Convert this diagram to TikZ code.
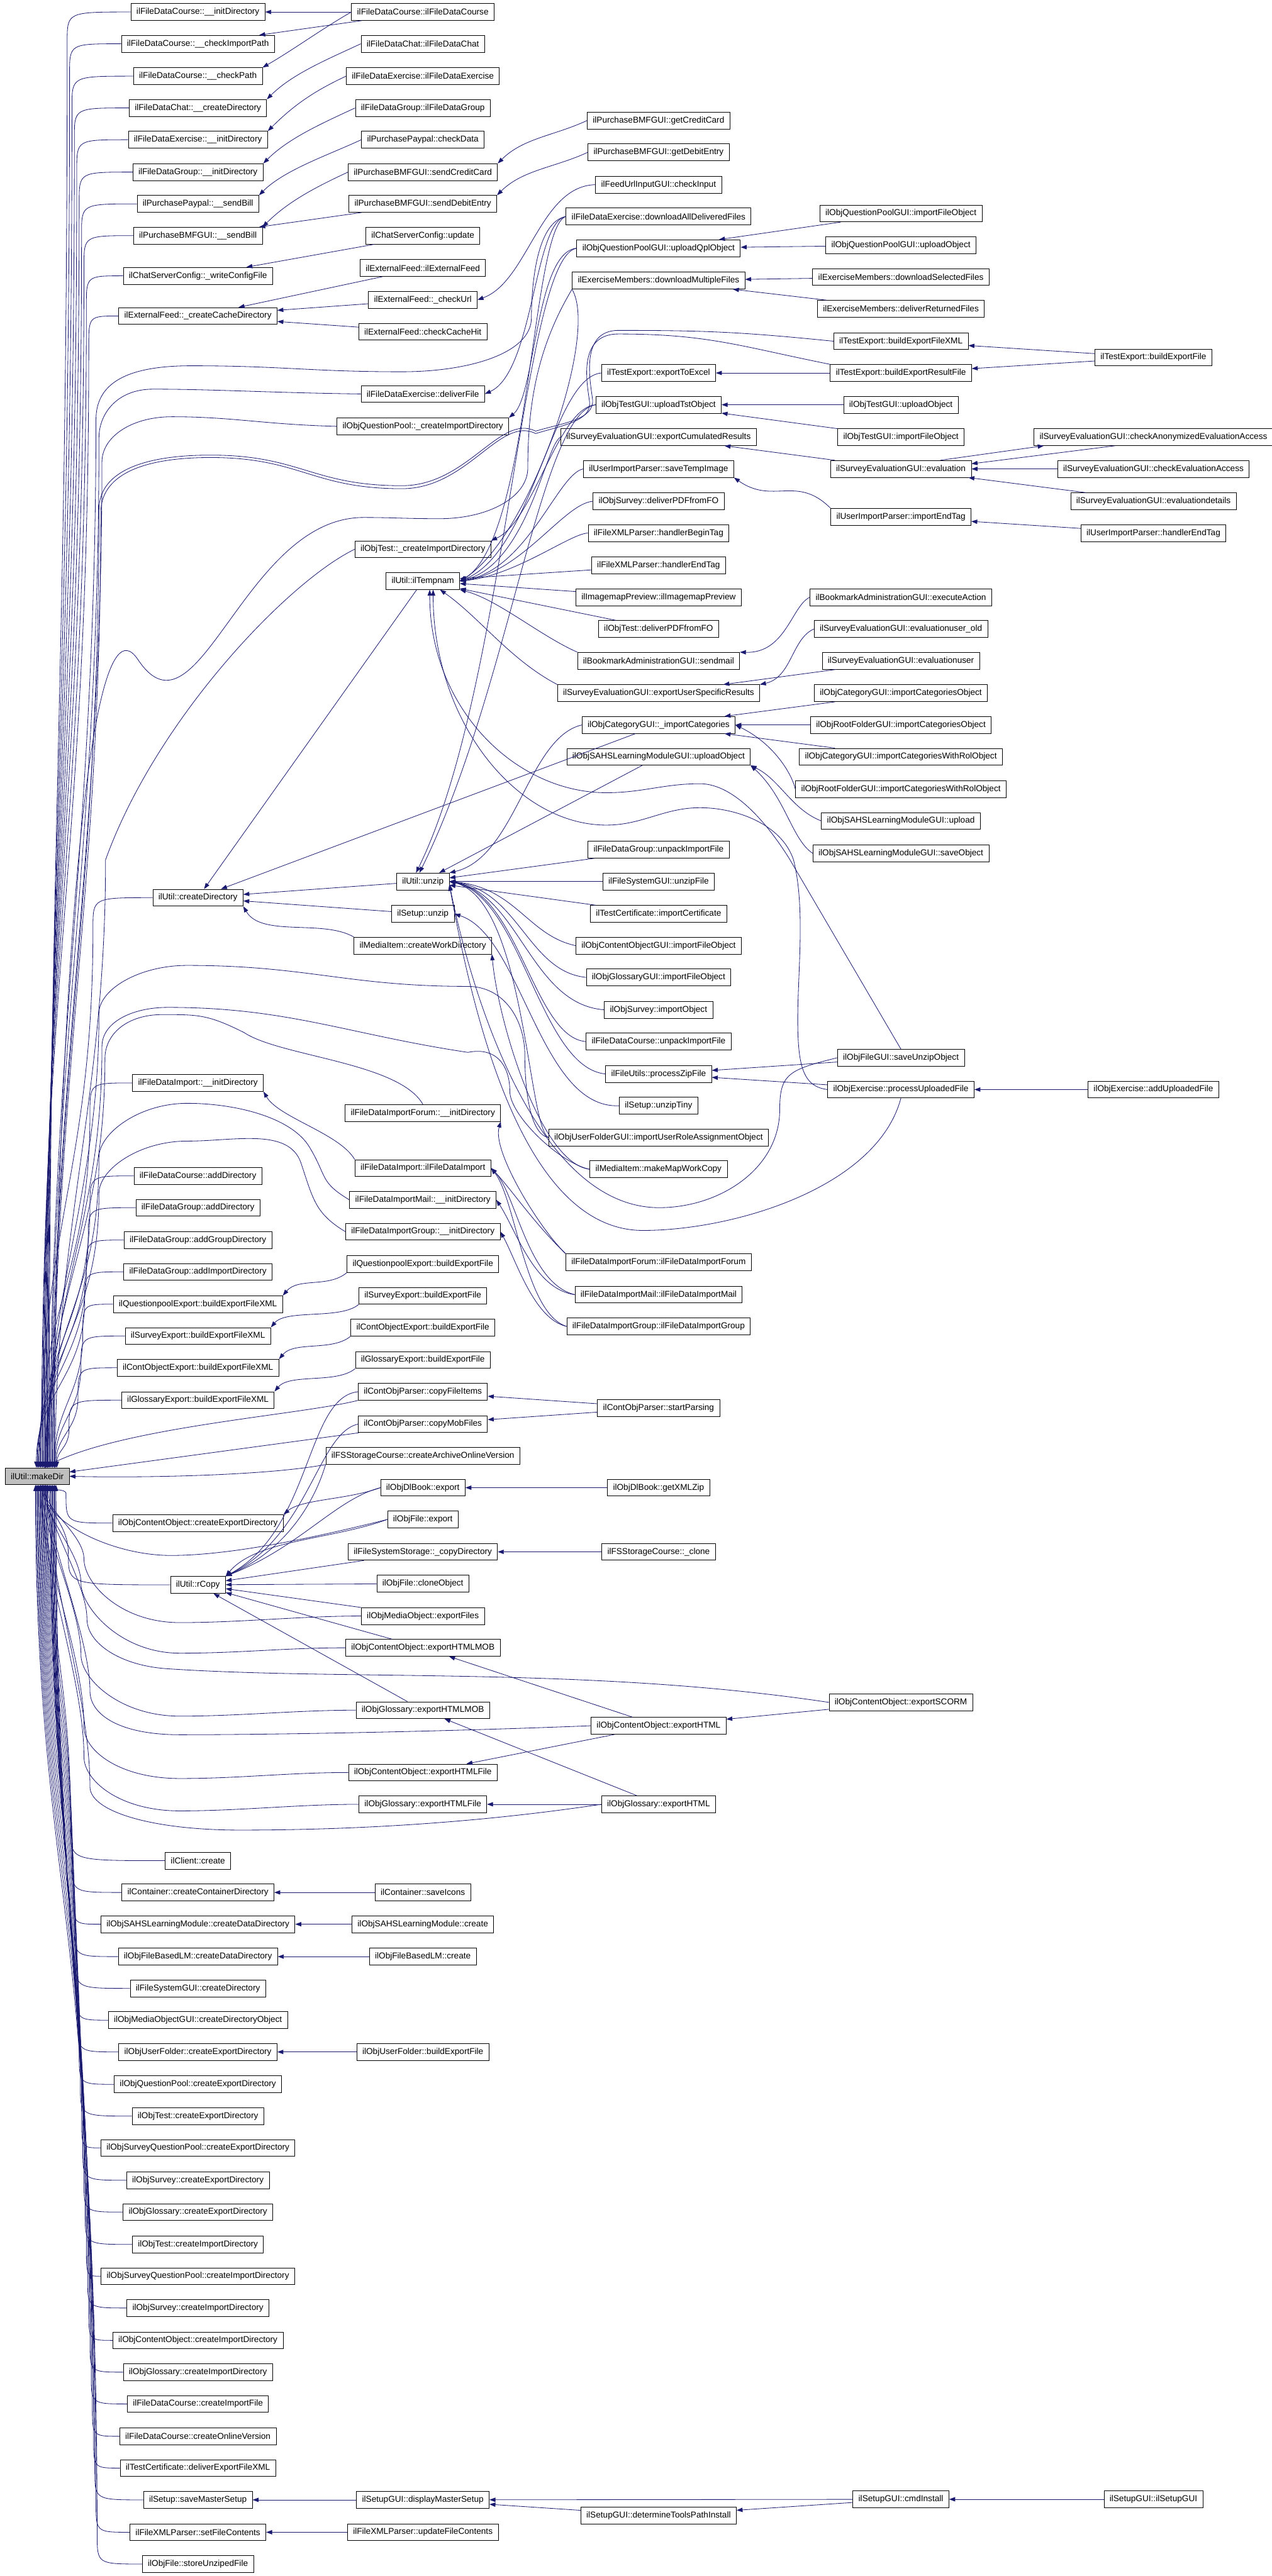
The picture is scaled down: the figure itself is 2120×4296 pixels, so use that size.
\documentclass[tikz,border=0pt]{standalone}
\usepackage{fontspec}
\setmainfont{Liberation Sans}
\usetikzlibrary{arrows.meta}
\definecolor{edgeblue}{RGB}{25,25,112}
\definecolor{rootgray}{RGB}{191,191,191}

\begin{document}
\begin{tikzpicture}[x=0.7pt, y=0.7pt,
    fn/.style={rectangle, draw=black, fill=white, line width=0.6pt,
               font=\fontsize{10}{12}\selectfont, inner xsep=6.5pt, inner ysep=0pt,
               minimum height=19.6pt},
    rootfn/.style={fn, fill=rootgray},
    arr/.style={-{Triangle[length=7pt,width=5pt]}, line width=0.6pt, edgeblue}
]
\useasboundingbox (0,0) rectangle (2120,-4296);

% the function itself
\node[rootfn] (root) at (62,-2462) {ilUtil::makeDir};

% callers, first column
\node[fn] (a1) at (330,-20) {ilFileDataCourse::\_\_initDirectory};
\node[fn] (a2) at (330,-73) {ilFileDataCourse::\_\_checkImportPath};
\node[fn] (a3) at (330,-127) {ilFileDataCourse::\_\_checkPath};
\node[fn] (a4) at (330,-180) {ilFileDataChat::\_\_createDirectory};
\node[fn] (a5) at (330,-233) {ilFileDataExercise::\_\_initDirectory};
\node[fn] (a6) at (330,-287) {ilFileDataGroup::\_\_initDirectory};
\node[fn] (a7) at (330,-340) {ilPurchasePaypal::\_\_sendBill};
\node[fn] (a8) at (330,-393) {ilPurchaseBMFGUI::\_\_sendBill};
\node[fn] (a9) at (330,-460) {ilChatServerConfig::\_writeConfigFile};
\node[fn] (a10) at (330,-527) {ilExternalFeed::\_createCacheDirectory};
\node[fn] (cdir) at (330,-1497) {ilUtil::createDirectory};
\node[fn] (a12) at (330,-1806) {ilFileDataImport::\_\_initDirectory};
\node[fn] (a13) at (330,-1961) {ilFileDataCourse::addDirectory};
\node[fn] (a14) at (330,-2014) {ilFileDataGroup::addDirectory};
\node[fn] (a15) at (330,-2068) {ilFileDataGroup::addGroupDirectory};
\node[fn] (a16) at (330,-2121) {ilFileDataGroup::addImportDirectory};
\node[fn] (a17) at (330,-2175) {ilQuestionpoolExport::buildExportFileXML};
\node[fn] (a18) at (330,-2228) {ilSurveyExport::buildExportFileXML};
\node[fn] (a19) at (330,-2281) {ilContObjectExport::buildExportFileXML};
\node[fn] (a20) at (330,-2335) {ilGlossaryExport::buildExportFileXML};
\node[fn] (a21) at (330,-2540) {ilObjContentObject::createExportDirectory};
\node[fn] (rcopy) at (330,-2643) {ilUtil::rCopy};
\node[fn] (a23) at (330,-3103) {ilClient::create};
\node[fn] (a24) at (330,-3156) {ilContainer::createContainerDirectory};
\node[fn] (a25) at (330,-3209) {ilObjSAHSLearningModule::createDataDirectory};
\node[fn] (a26) at (330,-3263) {ilObjFileBasedLM::createDataDirectory};
\node[fn] (a27) at (330,-3316) {ilFileSystemGUI::createDirectory};
\node[fn] (a28) at (330,-3369) {ilObjMediaObjectGUI::createDirectoryObject};
\node[fn] (a29) at (330,-3422) {ilObjUserFolder::createExportDirectory};
\node[fn] (a30) at (330,-3476) {ilObjQuestionPool::createExportDirectory};
\node[fn] (a31) at (330,-3529) {ilObjTest::createExportDirectory};
\node[fn] (a32) at (330,-3582) {ilObjSurveyQuestionPool::createExportDirectory};
\node[fn] (a33) at (330,-3636) {ilObjSurvey::createExportDirectory};
\node[fn] (a34) at (330,-3689) {ilObjGlossary::createExportDirectory};
\node[fn] (a35) at (330,-3743) {ilObjTest::createImportDirectory};
\node[fn] (a36) at (330,-3796) {ilObjSurveyQuestionPool::createImportDirectory};
\node[fn] (a37) at (330,-3849) {ilObjSurvey::createImportDirectory};
\node[fn] (a38) at (330,-3903) {ilObjContentObject::createImportDirectory};
\node[fn] (a39) at (330,-3956) {ilObjGlossary::createImportDirectory};
\node[fn] (a40) at (330,-4009) {ilFileDataCourse::createImportFile};
\node[fn] (a41) at (330,-4063) {ilFileDataCourse::createOnlineVersion};
\node[fn] (a42) at (330,-4116) {ilTestCertificate::deliverExportFileXML};
\node[fn] (a43) at (330,-4169) {ilSetup::saveMasterSetup};
\node[fn] (a44) at (330,-4223) {ilFileXMLParser::setFileContents};
\node[fn] (a45) at (330,-4276) {ilObjFile::storeUnzipedFile};

% second column
\node[fn] (b1) at (705,-20) {ilFileDataCourse::ilFileDataCourse};
\node[fn] (b2) at (705,-73) {ilFileDataChat::ilFileDataChat};
\node[fn] (b3) at (705,-127) {ilFileDataExercise::ilFileDataExercise};
\node[fn] (b4) at (705,-180) {ilFileDataGroup::ilFileDataGroup};
\node[fn] (b5) at (705,-233) {ilPurchasePaypal::checkData};
\node[fn] (b6) at (705,-287) {ilPurchaseBMFGUI::sendCreditCard};
\node[fn] (b7) at (705,-340) {ilPurchaseBMFGUI::sendDebitEntry};
\node[fn] (b8) at (705,-393) {ilChatServerConfig::update};
\node[fn] (b9) at (705,-447) {ilExternalFeed::ilExternalFeed};
\node[fn] (b10) at (705,-500) {ilExternalFeed::\_checkUrl};
\node[fn] (b11) at (705,-553) {ilExternalFeed::checkCacheHit};
\node[fn] (b12) at (705,-657) {ilFileDataExercise::deliverFile};
\node[fn] (b13) at (705,-711) {ilObjQuestionPool::\_createImportDirectory};
\node[fn] (b14) at (705,-916) {ilObjTest::\_createImportDirectory};
\node[fn] (tmp) at (705,-969) {ilUtil::ilTempnam};
\node[fn] (unzip) at (705,-1470) {ilUtil::unzip};
\node[fn] (sunzip) at (705,-1524) {ilSetup::unzip};
\node[fn] (cwd) at (705,-1577) {ilMediaItem::createWorkDirectory};
\node[fn] (b18) at (705,-1856) {ilFileDataImportForum::\_\_initDirectory};
\node[fn] (b19) at (705,-1948) {ilFileDataImport::ilFileDataImport};
\node[fn] (b20) at (705,-2001) {ilFileDataImportMail::\_\_initDirectory};
\node[fn] (b21) at (705,-2054) {ilFileDataImportGroup::\_\_initDirectory};
\node[fn] (b22) at (705,-2108) {ilQuestionpoolExport::buildExportFile};
\node[fn] (b23) at (705,-2161) {ilSurveyExport::buildExportFile};
\node[fn] (b24) at (705,-2214) {ilContObjectExport::buildExportFile};
\node[fn] (b25) at (705,-2268) {ilGlossaryExport::buildExportFile};
\node[fn] (b26) at (705,-2321) {ilContObjParser::copyFileItems};
\node[fn] (b27) at (705,-2375) {ilContObjParser::copyMobFiles};
\node[fn] (b28) at (705,-2428) {ilFSStorageCourse::createArchiveOnlineVersion};
\node[fn] (b29) at (705,-2481) {ilObjDlBook::export};
\node[fn] (b30) at (705,-2534) {ilObjFile::export};
\node[fn] (b31) at (705,-2588) {ilFileSystemStorage::\_copyDirectory};
\node[fn] (b32) at (705,-2641) {ilObjFile::cloneObject};
\node[fn] (b33) at (705,-2695) {ilObjMediaObject::exportFiles};
\node[fn] (b34) at (705,-2748) {ilObjContentObject::exportHTMLMOB};
\node[fn] (b35) at (705,-2852) {ilObjGlossary::exportHTMLMOB};
\node[fn] (b36) at (705,-2956) {ilObjContentObject::exportHTMLFile};
\node[fn] (b37) at (705,-3009) {ilObjGlossary::exportHTMLFile};
\node[fn] (b38) at (705,-3156) {ilContainer::saveIcons};
\node[fn] (b39) at (705,-3209) {ilObjSAHSLearningModule::create};
\node[fn] (b40) at (705,-3263) {ilObjFileBasedLM::create};
\node[fn] (b41) at (705,-3422) {ilObjUserFolder::buildExportFile};
\node[fn] (b42) at (705,-4169) {ilSetupGUI::displayMasterSetup};
\node[fn] (b43) at (705,-4223) {ilFileXMLParser::updateFileContents};

% third column
\node[fn] (c1) at (1098,-201) {ilPurchaseBMFGUI::getCreditCard};
\node[fn] (c2) at (1098,-254) {ilPurchaseBMFGUI::getDebitEntry};
\node[fn] (c3) at (1098,-308) {ilFeedUrlInputGUI::checkInput};
\node[fn] (c4) at (1098,-361) {ilFileDataExercise::downloadAllDeliveredFiles};
\node[fn] (c5) at (1098,-414) {ilObjQuestionPoolGUI::uploadQplObject};
\node[fn] (c6) at (1098,-468) {ilExerciseMembers::downloadMultipleFiles};
\node[fn] (c7) at (1098,-622) {ilTestExport::exportToExcel};
\node[fn] (c8) at (1098,-675) {ilObjTestGUI::uploadTstObject};
\node[fn] (c9) at (1098,-729) {ilSurveyEvaluationGUI::exportCumulatedResults};
\node[fn] (c10) at (1098,-782) {ilUserImportParser::saveTempImage};
\node[fn] (c11) at (1098,-836) {ilObjSurvey::deliverPDFfromFO};
\node[fn] (c12) at (1098,-889) {ilFileXMLParser::handlerBeginTag};
\node[fn] (c13) at (1098,-943) {ilFileXMLParser::handlerEndTag};
\node[fn] (c14) at (1098,-996) {ilImagemapPreview::ilImagemapPreview};
\node[fn] (c15) at (1098,-1049) {ilObjTest::deliverPDFfromFO};
\node[fn] (c16) at (1098,-1102) {ilBookmarkAdministrationGUI::sendmail};
\node[fn] (c17) at (1098,-1156) {ilSurveyEvaluationGUI::exportUserSpecificResults};
\node[fn] (c18) at (1098,-1209) {ilObjCategoryGUI::\_importCategories};
\node[fn] (c19) at (1098,-1262) {ilObjSAHSLearningModuleGUI::uploadObject};
\node[fn] (c20) at (1098,-1417) {ilFileDataGroup::unpackImportFile};
\node[fn] (c21) at (1098,-1470) {ilFileSystemGUI::unzipFile};
\node[fn] (c22) at (1098,-1524) {ilTestCertificate::importCertificate};
\node[fn] (c23) at (1098,-1577) {ilObjContentObjectGUI::importFileObject};
\node[fn] (c24) at (1098,-1630) {ilObjGlossaryGUI::importFileObject};
\node[fn] (c25) at (1098,-1684) {ilObjSurvey::importObject};
\node[fn] (c26) at (1098,-1737) {ilFileDataCourse::unpackImportFile};
\node[fn] (c27) at (1098,-1791) {ilFileUtils::processZipFile};
\node[fn] (c28) at (1098,-1844) {ilSetup::unzipTiny};
\node[fn] (c29) at (1098,-1897) {ilObjUserFolderGUI::importUserRoleAssignmentObject};
\node[fn] (c30) at (1098,-1950) {ilMediaItem::makeMapWorkCopy};
\node[fn] (c31) at (1098,-2105) {ilFileDataImportForum::ilFileDataImportForum};
\node[fn] (c32) at (1098,-2159) {ilFileDataImportMail::ilFileDataImportMail};
\node[fn] (c33) at (1098,-2212) {ilFileDataImportGroup::ilFileDataImportGroup};
\node[fn] (c34) at (1098,-2348) {ilContObjParser::startParsing};
\node[fn] (c35) at (1098,-2481) {ilObjDlBook::getXMLZip};
\node[fn] (c36) at (1098,-2588) {ilFSStorageCourse::\_clone};
\node[fn] (c37) at (1098,-2878) {ilObjContentObject::exportHTML};
\node[fn] (c38) at (1098,-3009) {ilObjGlossary::exportHTML};
\node[fn] (c39) at (1098,-4195) {ilSetupGUI::determineToolsPathInstall};

% fourth column
\node[fn] (d1) at (1502,-356) {ilObjQuestionPoolGUI::importFileObject};
\node[fn] (d2) at (1502,-409) {ilObjQuestionPoolGUI::uploadObject};
\node[fn] (d3) at (1502,-462) {ilExerciseMembers::downloadSelectedFiles};
\node[fn] (d4) at (1502,-515) {ilExerciseMembers::deliverReturnedFiles};
\node[fn] (d5) at (1502,-569) {ilTestExport::buildExportFileXML};
\node[fn] (d6) at (1502,-622) {ilTestExport::buildExportResultFile};
\node[fn] (d7) at (1502,-675) {ilObjTestGUI::uploadObject};
\node[fn] (d8) at (1502,-729) {ilObjTestGUI::importFileObject};
\node[fn] (d9) at (1502,-782) {ilSurveyEvaluationGUI::evaluation};
\node[fn] (d10) at (1502,-862) {ilUserImportParser::importEndTag};
\node[fn] (d11) at (1502,-996) {ilBookmarkAdministrationGUI::executeAction};
\node[fn] (d12) at (1502,-1049) {ilSurveyEvaluationGUI::evaluationuser\_old};
\node[fn] (d13) at (1502,-1102) {ilSurveyEvaluationGUI::evaluationuser};
\node[fn] (d14) at (1502,-1156) {ilObjCategoryGUI::importCategoriesObject};
\node[fn] (d15) at (1502,-1209) {ilObjRootFolderGUI::importCategoriesObject};
\node[fn] (d16) at (1502,-1262) {ilObjCategoryGUI::importCategoriesWithRolObject};
\node[fn] (d17) at (1502,-1316) {ilObjRootFolderGUI::importCategoriesWithRolObject};
\node[fn] (d18) at (1502,-1369) {ilObjSAHSLearningModuleGUI::upload};
\node[fn] (d19) at (1502,-1423) {ilObjSAHSLearningModuleGUI::saveObject};
\node[fn] (d20) at (1502,-1764) {ilObjFileGUI::saveUnzipObject};
\node[fn] (d21) at (1502,-1817) {ilObjExercise::processUploadedFile};
\node[fn] (d22) at (1502,-2839) {ilObjContentObject::exportSCORM};
\node[fn] (d23) at (1502,-4168) {ilSetupGUI::cmdInstall};

% fifth column
\node[fn] (e1) at (1923,-596) {ilTestExport::buildExportFile};
\node[fn] (e2) at (1923,-729) {ilSurveyEvaluationGUI::checkAnonymizedEvaluationAccess};
\node[fn] (e3) at (1923,-782) {ilSurveyEvaluationGUI::checkEvaluationAccess};
\node[fn] (e4) at (1923,-836) {ilSurveyEvaluationGUI::evaluationdetails};
\node[fn] (e5) at (1923,-889) {ilUserImportParser::handlerEndTag};
\node[fn] (e6) at (1923,-1817) {ilObjExercise::addUploadedFile};
\node[fn] (e7) at (1923,-4168) {ilSetupGUI::ilSetupGUI};

% first column into makeDir, from above
\foreach \nn/\yy/\ll/\ss [evaluate=\yy as \kk using (2398-\yy)*0.45] in
   {a1/20/112/14pt, a2/73/116/13pt, a3/127/120/12pt, a4/180/124/11pt,
    a5/233/128/10pt, a6/287/132/9pt, a7/340/136/8pt, a8/393/140/7pt, a9/460/144/6pt,
    a10/527/148/5pt, cdir/1497/155/4pt, a12/1806/150/3pt, a13/1961/150/2pt, a14/2014/147/1pt,
    a15/2068/144/0pt, a16/2121/141/-1pt, a17/2175/138/20pt, a18/2228/135/21pt,
    a19/2281/130/22pt, a20/2335/115/23pt}
  \draw[arr] (\nn.west) .. controls (\ll,-\yy) .. (\ll,-\yy-50)
      .. controls +(0,-\kk) and +(0,\kk) .. ([xshift=\ss]root.north);

% first column into makeDir, from below
\foreach \nn/\yy/\ll/\ss [evaluate=\yy as \kk using (\yy-2526)*0.45] in
   {a21/2540/110/14pt, rcopy/2643/114/13pt, a23/3103/118/12pt,
    a24/3156/120/11pt, a25/3209/122/10pt, a26/3263/124/9pt, a27/3316/126/8pt, a28/3369/128/7pt,
    a29/3422/130/6pt, a30/3476/132/5pt, a31/3529/134/4pt, a32/3582/136/3pt, a33/3636/138/2pt,
    a34/3689/140/1pt, a35/3743/142/0pt, a36/3796/144/-1pt, a37/3849/146/-2pt, a38/3903/148/15pt,
    a39/3956/150/16pt, a40/4009/152/17pt, a41/4063/154/18pt, a42/4116/156/19pt,
    a43/4169/158/20pt, a44/4223/160/21pt, a45/4276/162/22pt}
  \draw[arr] (\nn.west) .. controls (\ll,-\yy) .. (\ll,-\yy+50)
      .. controls +(0,\kk) and +(0,-\kk) .. ([xshift=\ss]root.south);

% longer callers into makeDir
\draw[arr] (b12.west) .. controls +(-150,2) and +(100,0) .. (255,-649) .. controls +(-60,0) and +(0,40) .. (165,-730)
    .. controls +(0,-700) and +(0,700) .. ([xshift=16pt]root.north);
\draw[arr] (b13.west) .. controls +(-120,3) and +(100,0) .. (287,-695) .. controls +(-70,0) and +(0,40) .. (170,-770)
    .. controls +(0,-650) and +(0,650) .. ([xshift=17pt]root.north);
\draw[arr] (c4.west) .. controls +(-50,-10) and +(0,50) .. (886,-530) .. controls +(0,-60) and +(110,0) .. (670,-620)
    .. controls +(-150,0) and +(150,0) .. (319,-610) .. controls +(-110,0) and +(0,60) .. (160,-700)
    .. controls +(0,-700) and +(0,700) .. ([xshift=15pt]root.north);
\draw[arr] (d5.west) .. controls +(-150,15) and +(150,0) .. (1031,-551) .. controls (965,-551) and (985,-640) .. (988,-667)
    .. controls (990,-700) and (940,-705) .. (893,-719) .. controls +(-60,30) and +(110,0) .. (670,-810)
    .. controls +(-150,0) and +(150,0) .. (351,-759) .. controls +(-120,0) and +(0,60) .. (165,-850)
    .. controls +(0,-650) and +(0,650) .. ([xshift=18pt]root.north);
\draw[arr] (d6.north west) .. controls +(-150,30) and +(150,0) .. (1031,-557) .. controls (960,-557) and (980,-645) .. (983,-671)
    .. controls (985,-702) and (940,-709) .. (893,-723) .. controls +(-60,30) and +(110,0) .. (670,-815)
    .. controls +(-150,0) and +(150,0) .. (351,-763) .. controls +(-120,0) and +(0,60) .. (168,-855)
    .. controls +(0,-650) and +(0,650) .. ([xshift=19pt]root.north);
\draw[arr] (c6.south west) .. controls +(-60,-100) and +(0,100) .. (880,-780) .. controls +(0,-50) and +(80,0) .. (733,-865)
    .. controls +(-60,0) and +(50,0) .. (606,-863) .. controls +(-200,0) and +(100,-150) .. (230,-1100)
    .. controls +(-100,150) and +(0,500) .. ([xshift=20pt]root.north);
\draw[arr] (b14.west) .. controls (480,-970) and (260,-1200) .. (176,-1434) .. controls +(0,-400) and +(0,400) .. ([xshift=21pt]root.north);
\draw[arr] (c29.west) .. controls +(-30,5) and +(0,-60) .. (875,-1760) .. controls +(0,60) and +(60,0) .. (780,-1645)
    .. controls +(-200,0) and +(200,0) .. (312,-1610) .. controls +(-80,0) and +(0,40) .. (165,-1690)
    .. controls +(0,-300) and +(0,300) .. ([xshift=12pt]root.north);
\draw[arr] (c30.west) .. controls +(-50,10) and +(0,-40) .. (850,-1820) .. controls +(0,40) and +(50,10) .. (780,-1755)
    .. controls +(-200,30) and +(200,0) .. (280,-1680) .. controls +(-60,0) and +(0,40) .. (170,-1745)
    .. controls +(0,-300) and +(0,300) .. ([xshift=13pt]root.north);
\draw[arr] (b18.north) .. controls +(-40,70) and +(60,-40) .. (407,-1722) .. controls +(-60,30) and +(60,0) .. (271,-1692)
    .. controls +(-60,0) and +(0,40) .. (175,-1765) .. controls +(0,-300) and +(0,300) .. ([xshift=11pt]root.north);
\draw[arr] (b20.west) .. controls +(-50,30) and +(30,-50) .. (516,-1913) .. controls +(-30,50) and +(80,0) .. (312,-1840)
    .. controls +(-80,0) and +(0,40) .. (165,-1930) .. controls +(0,-250) and +(0,250) .. ([xshift=10pt]root.north);
\draw[arr] (b21.west) .. controls +(-50,30) and +(20,-60) .. (502,-1940) .. controls +(-20,60) and +(80,0) .. (312,-1903)
    .. controls +(-80,0) and +(0,40) .. (165,-1990) .. controls +(0,-220) and +(0,220) .. ([xshift=9pt]root.north);
\draw[arr] (b26.south west) .. controls (500,-2360) and (200,-2380) .. ([xshift=8pt]root.north);
\draw[arr] (b27) -- (root);
\draw[arr] (b28.south west) .. controls (450,-2460) and (250,-2465) .. (root.east);
\draw[arr] (b30.west) .. controls +(-120,-30) and +(100,0) .. (285,-2594) .. controls +(-100,0) and +(0,-60) .. ([xshift=8pt]root.south);
\draw[arr] (b33.west) .. controls +(-100,0) and +(100,0) .. (300,-2706) .. controls +(-100,0) and +(0,-40) .. (140,-2600)
    .. controls +(0,40) and +(0,-40) .. ([xshift=9pt]root.south);
\draw[arr] (b34.west) .. controls +(-100,0) and +(100,0) .. (300,-2757) .. controls +(-100,0) and +(0,-40) .. (135,-2640)
    .. controls +(0,50) and +(0,-50) .. ([xshift=7pt]root.south);
\draw[arr] (d22.west) .. controls +(-400,60) and +(300,-20) .. (280,-2783) .. controls +(-80,5) and +(0,-40) .. (145,-2700)
    .. controls +(0,60) and +(0,-60) .. ([xshift=10pt]root.south);
\draw[arr] (b35.west) .. controls +(-100,0) and +(100,0) .. (300,-2862) .. controls +(-100,0) and +(0,-40) .. (135,-2760)
    .. controls +(0,80) and +(0,-80) .. ([xshift=6pt]root.south);
\draw[arr] (c37.west) .. controls +(-250,-10) and +(150,0) .. (300,-2893) .. controls +(-100,0) and +(0,-40) .. (150,-2820)
    .. controls +(0,90) and +(0,-90) .. ([xshift=11pt]root.south);
\draw[arr] (b36.west) .. controls +(-100,0) and +(100,0) .. (300,-2966) .. controls +(-100,0) and +(0,-40) .. (140,-2880)
    .. controls +(0,120) and +(0,-120) .. ([xshift=5pt]root.south);
\draw[arr] (b37.west) .. controls +(-100,0) and +(100,0) .. (300,-3020) .. controls +(-100,0) and +(0,-40) .. (140,-2930)
    .. controls +(0,130) and +(0,-130) .. ([xshift=4pt]root.south);
\draw[arr] (c38.west) .. controls +(-200,-30) and +(200,0) .. (400,-3052) .. controls +(-150,0) and +(0,-40) .. (150,-2980)
    .. controls +(0,150) and +(0,-150) .. ([xshift=12pt]root.south);

% top block
\draw[arr] (b1) -- (a1);
\draw[arr] (b1) -- (a2);
\draw[arr] (b1.west) .. controls +(210:60) and +(30:60) .. (a3.north east);
\draw[arr] (b2.west) .. controls +(205:60) and +(45:60) .. (a4.north east);
\draw[arr] (b3.west) .. controls +(205:60) and +(45:60) .. (a5.north east);
\draw[arr] (b4.west) .. controls +(205:60) and +(45:60) .. (a6.north east);
\draw[arr] (b5.west) .. controls +(205:60) and +(45:60) .. (a7.north east);
\draw[arr] (b6.west) .. controls +(205:60) and +(45:60) .. (a8.north east);
\draw[arr] (b7) -- (a8);
\draw[arr] (c1.west) .. controls +(205:60) and +(45:60) .. (b6.north east);
\draw[arr] (c2.west) .. controls +(205:60) and +(45:60) .. (b7.north east);
\draw[arr] (b8) -- (a9);
\draw[arr] (b9) -- (a10);
\draw[arr] (b10) -- (a10);
\draw[arr] (b11) -- (a10);
\draw[arr] (c3.west) .. controls (900,-310) and (880,-470) .. (b10.east);
\draw[arr] (c4.west) .. controls (890,-370) and (890,-620) .. (b12.east);
\draw[arr] (c5.west) .. controls (893,-420) and (893,-660) .. (b13.north east);
\draw[arr] (c8.west) .. controls (930,-680) and (890,-870) .. (b14.north east);
\draw[arr] (d1) -- (c5);
\draw[arr] (d2) -- (c5);
\draw[arr] (d3) -- (c6);
\draw[arr] (d4) -- (c6);
\draw[arr] (e1) -- (d5);
\draw[arr] (e1) -- (d6);
\draw[arr] (d6) -- (c7);
\draw[arr] (d7) -- (c8);
\draw[arr] (d8) -- (c8);
\draw[arr] (d9) -- (c9);
\draw[arr] ([xshift=46pt]d9.north) -- ([xshift=-128pt]e2.south);
\draw[arr] ([xshift=-45pt]e2.south) -- ([yshift=6pt]d9.east);
\draw[arr] (e3) -- (d9);
\draw[arr] (e4) -- (d9);
\draw[arr] (d10.north west) .. controls +(135:80) and +(-35:80) .. (c10.south east);
\draw[arr] (e5) -- (d10);

% into ilTempnam
\draw[arr] (c4.west) .. controls (885,-380) and (885,-900) .. (tmp.east);
\draw[arr] (c6.south west) .. controls (1000,-560) and (880,-900) .. (tmp.east);
\draw[arr] (c7.west) .. controls (920,-630) and (890,-920) .. (tmp.east);
\draw[arr] (c9.west) .. controls (910,-740) and (880,-940) .. (tmp.east);
\draw[arr] (c10.west) .. controls (930,-790) and (880,-950) .. (tmp.east);
\draw[arr] (c11.west) .. controls (940,-840) and (870,-955) .. (tmp.east);
\draw[arr] (c12.west) .. controls (950,-890) and (860,-960) .. (tmp.east);
\draw[arr] (c13) -- (tmp);
\draw[arr] (c14) -- (tmp);
\draw[arr] (c15) -- (tmp);
\draw[arr] (c16.north west) .. controls (900,-1060) and (830,-1000) .. (tmp.south east);
\draw[arr] (c17.north west) .. controls (850,-1100) and (800,-1030) .. ([xshift=20pt]tmp.south);
\draw[arr] (d11.west) .. controls (1320,-1010) and (1310,-1090) .. (c16.north east);
\draw[arr] (d12.west) .. controls (1320,-1065) and (1320,-1130) .. (c17.north east);
\draw[arr] (d13) -- (c17);
\draw[arr] (d14) -- (c18);
\draw[arr] (d15) -- (c18);
\draw[arr] (d16) -- (c18);
\draw[arr] (d17.west) .. controls (1320,-1290) and (1290,-1240) .. (c18.east);
\draw[arr] (d18.west) .. controls (1320,-1350) and (1300,-1300) .. (c19.south east);
\draw[arr] (d19.west) .. controls (1320,-1400) and (1310,-1330) .. (c19.south east);
\draw[arr] (d20.north) -- (1316,-1432) .. controls +(122:60) and +(60,0) .. (1167,-1307)
    .. controls +(-60,0) and +(60,0) .. (1011,-1322) .. controls +(-150,0) and +(0,-200) .. ([xshift=8pt]tmp.south);
\draw[arr] (d21.west) .. controls +(-40,5) and +(0,-80) .. (1330,-1700) .. controls +(0,80) and +(20,-80) .. (1323,-1434)
    .. controls +(-20,60) and +(60,0) .. (1167,-1347) .. controls +(-60,0) and +(60,0) .. (1011,-1376)
    .. controls +(-150,0) and +(0,-220) .. ([xshift=12pt]tmp.south);

% unzip and createDirectory
\draw[arr] (tmp) -- (cdir);
\draw[arr] (c18) -- (cdir);
\draw[arr] (unzip) -- (cdir);
\draw[arr] (sunzip) -- (cdir);
\draw[arr] (cwd.north west) .. controls +(150:60) and +(-60:60) .. (cdir.south east);
\draw[arr] (c5.west) .. controls (870,-430) and (845,-1150) .. ([xshift=-8pt]unzip.north);
\draw[arr] (c8.west) .. controls (900,-690) and (850,-1150) .. ([xshift=-4pt]unzip.north);
\draw[arr] (c19) -- (unzip);
\draw[arr] (c18.west) .. controls (880,-1230) and (860,-1430) .. (unzip.north east);
\draw[arr] (c20) -- (unzip);
\draw[arr] (c21) -- (unzip);
\draw[arr] (c22) -- (unzip);
\draw[arr] (c23.west) .. controls (880,-1560) and (860,-1480) .. (unzip.east);
\draw[arr] (c24.west) .. controls (880,-1620) and (865,-1485) .. (unzip.east);
\draw[arr] (c25.west) .. controls (885,-1675) and (865,-1490) .. (unzip.east);
\draw[arr] (c26.west) .. controls (890,-1730) and (865,-1490) .. (unzip.east);
\draw[arr] (c27.west) .. controls (900,-1780) and (870,-1495) .. (unzip.east);
\draw[arr] (c29.west) .. controls (880,-1880) and (875,-1500) .. (unzip.east);
\draw[arr] (d20.west) .. controls +(-80,-20) and +(0,60) .. (1300,-1850) .. controls +(0,-100) and +(100,0) .. (1099,-2014)
    .. controls +(-200,0) and +(40,-200) .. ([yshift=-3pt]unzip.east);
\draw[arr] (d21.south) .. controls +(-40,-150) and +(150,0) .. (1072,-2052)
    .. controls +(-200,0) and +(40,-220) .. ([yshift=-4pt]unzip.east);
\draw[arr] (d20) -- (c27);
\draw[arr] (d21) -- (c27);
\draw[arr] (e6) -- (d21);
\draw[arr] (c28.west) .. controls (900,-1850) and (870,-1560) .. (sunzip.east);
\draw[arr] (c30.west) .. controls (900,-1940) and (830,-1700) .. (cwd.south east);

% import data classes
\draw[arr] (b19.north west) .. controls +(120:50) and +(-60:50) .. (a12.south east);
\draw[arr] (c31.north west) .. controls (900,-2050) and (820,-1920) .. (b18.south east);
\draw[arr] (c31.north west) .. controls (890,-2040) and (850,-1980) .. (b19.east);
\draw[arr] (c32.west) .. controls (890,-2150) and (860,-2050) .. (b20.east);
\draw[arr] (c32.west) .. controls (880,-2140) and (860,-1990) .. (b19.east);
\draw[arr] (c33.west) .. controls (890,-2200) and (860,-2100) .. (b21.east);
\draw[arr] (c33.west) .. controls (875,-2190) and (860,-2000) .. (b19.east);

% export classes
\draw[arr] (b22.south west) .. controls +(-140:40) and +(50:40) .. (a17.north east);
\draw[arr] (b23.south west) .. controls +(-140:40) and +(50:40) .. (a18.north east);
\draw[arr] (b24.south west) .. controls +(-140:40) and +(50:40) .. (a19.north east);
\draw[arr] (b25.south west) .. controls +(-140:40) and +(50:40) .. (a20.north east);
\draw[arr] (c34) -- (b26);
\draw[arr] (c34) -- (b27);
\draw[arr] (c35) -- (b29);
\draw[arr] (b29.west) .. controls +(200:60) and +(40:40) .. (a21.north east);

% into rCopy
\draw[arr] (b26.west) .. controls (510,-2330) and (520,-2550) .. (rcopy.north east);
\draw[arr] (b27.west) .. controls (530,-2390) and (515,-2560) .. (rcopy.north east);
\draw[arr] (b28.south west) .. controls (540,-2450) and (510,-2570) .. (rcopy.north east);
\draw[arr] (b29.west) .. controls (560,-2500) and (500,-2580) .. (rcopy.north east);
\draw[arr] (b30.west) .. controls +(200:100) and +(50:80) .. (rcopy.north east);
\draw[arr] (b31) -- (rcopy);
\draw[arr] (b32) -- (rcopy);
\draw[arr] (b33) -- (rcopy);
\draw[arr] (b34) -- (rcopy);
\draw[arr] (b35) -- (rcopy);
\draw[arr] (c36) -- (b31);

% HTML export
\draw[arr] (d22) -- (c37);
\draw[arr] (c37) -- (b34);
\draw[arr] (c37) -- (b36);
\draw[arr] (c38) -- (b37);
\draw[arr] (c38) -- (b35);

% lower single pairs
\draw[arr] (b38) -- (a24);
\draw[arr] (b39) -- (a25);
\draw[arr] (b40) -- (a26);
\draw[arr] (b41) -- (a29);
\draw[arr] (b42) -- (a43);
\draw[arr] (d23) -- (b42);
\draw[arr] (d23) -- (c39);
\draw[arr] (c39) -- (b42);
\draw[arr] (e7) -- (d23);
\draw[arr] (b43) -- (a44);
\end{tikzpicture}
\end{document}
